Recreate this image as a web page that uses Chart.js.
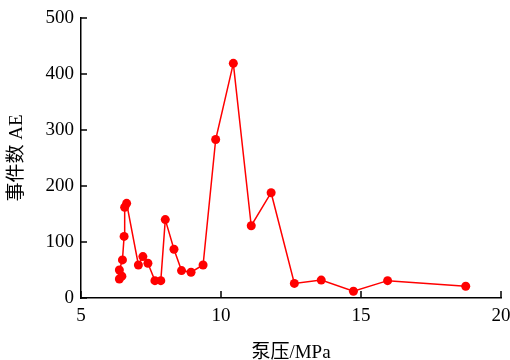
<!DOCTYPE html>
<html>
<head>
<meta charset="utf-8">
<script src="https://cdn.jsdelivr.net/npm/chart.js@4/dist/chart.umd.min.js"></script>
<style>
  html, body { margin: 0; padding: 0; background: #fff; }
  #wrap { width: 510px; height: 360px; }
</style>
</head>
<body>
<div id="wrap"><canvas id="ae-chart"></canvas></div>
<script>
// pump pressure (MPa) and AE event counts
var pressure = [6.37, 6.46, 6.37, 6.48, 6.54, 6.56, 6.63, 7.05, 7.21, 7.39, 7.64, 7.85, 8.01, 8.32, 8.59, 8.93, 9.36, 9.81, 10.44, 11.08, 11.79, 12.62, 13.58, 14.73, 15.95, 18.74];
var aeCount = [34, 39, 50, 68, 110, 162, 169, 59, 74, 62, 31, 31, 140, 87, 49, 46, 59, 283, 419, 129, 188, 26, 32, 12, 31, 21];
var xTicks = [5, 10, 15, 20];
var yTicks = [0, 100, 200, 300, 400, 500];

var serif = "'Liberation Serif', 'Times New Roman', 'Noto Sans CJK SC', serif";

// small tick marks pointing into the plot
var innerTicks = {
    id: 'innerTicks',
    afterDraw: function (chart) {
        var c = chart.ctx, a = chart.chartArea;
        var x = chart.scales.x, y = chart.scales.y;
        c.save();
        c.strokeStyle = '#000';
        c.lineWidth = 1.5;
        c.beginPath();
        xTicks.forEach(function (v) {
            var px = Math.round(x.getPixelForValue(v));
            c.moveTo(px, a.bottom);
            c.lineTo(px, a.bottom - 7);
        });
        yTicks.forEach(function (v) {
            var py = Math.round(y.getPixelForValue(v));
            c.moveTo(a.left, py);
            c.lineTo(a.left + 6, py);
        });
        c.stroke();
        c.restore();
    }
};

var canvas = document.getElementById('ae-chart');
new Chart(canvas, {
    type: 'scatter',
    data: {
        datasets: [{
            label: 'AE',
            data: pressure.map(function (p, i) { return { x: p, y: aeCount[i] }; }),
            showLine: true,
            borderColor: '#ff0000',
            backgroundColor: '#ff0000',
            borderWidth: 1.5,
            pointRadius: 4.5,
            pointBorderWidth: 0,
            tension: 0
        }]
    },
    options: {
        responsive: true,
        maintainAspectRatio: false,
        animation: false,
        layout: { padding: { left: 0, right: 9, top: 18, bottom: 0 } },
        plugins: {
            legend: { display: false },
            tooltip: { enabled: false }
        },
        scales: {
            x: {
                type: 'linear',
                min: 5,
                max: 20,
                afterBuildTicks: function (s) { s.ticks = xTicks.map(function (v) { return { value: v }; }); },
                afterFit: function (s) { s.height = 62; s.paddingRight = 0; s.paddingLeft = 0; },
                grid: { display: true, drawOnChartArea: false, drawTicks: false },
                border: { display: true, color: '#000', width: 1.5 },
                ticks: { color: '#000', padding: 7, maxRotation: 0, font: { family: serif, size: 19 } },
                title: {
                    display: true,
                    text: '泵压/MPa',
                    color: '#000',
                    padding: { top: 15, bottom: -4 },
                    font: { family: serif, size: 19 }
                }
            },
            y: {
                min: 0,
                max: 500,
                afterBuildTicks: function (s) { s.ticks = yTicks.map(function (v) { return { value: v }; }); },
                afterFit: function (s) { s.width = 81; s.paddingTop = 0; s.paddingBottom = 0; },
                grid: { display: true, drawOnChartArea: false, drawTicks: false },
                border: { display: true, color: '#000', width: 1.5 },
                ticks: { color: '#000', padding: 7, font: { family: serif, size: 19 } },
                title: {
                    display: true,
                    text: '事件数 AE',
                    color: '#000',
                    padding: { top: 6, bottom: 2 },
                    font: { family: serif, size: 19 }
                }
            }
        }
    },
    plugins: [innerTicks]
});
</script>
</body>
</html>
